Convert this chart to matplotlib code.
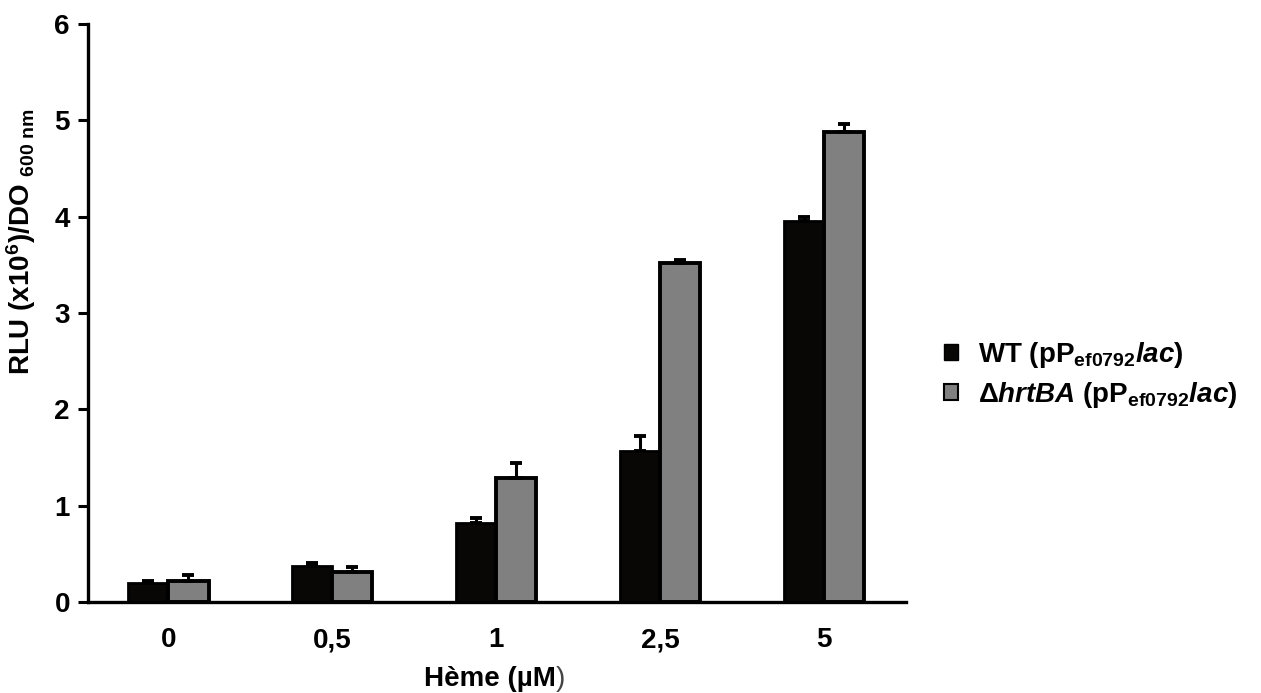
import numpy as np
import matplotlib
matplotlib.use("Agg")
import matplotlib.pyplot as plt
from matplotlib.patches import Patch

# Data
doses = ["0", "0,5", "1", "2,5", "5"]
wt_mean = [0.20, 0.37, 0.82, 1.57, 3.95]
wt_err = [0.02, 0.03, 0.05, 0.15, 0.05]
hrt_mean = [0.22, 0.31, 1.29, 3.52, 4.88]
hrt_err = [0.06, 0.05, 0.15, 0.03, 0.08]

plt.rcParams["font.family"] = ["Liberation Sans", "DejaVu Sans"]
plt.rcParams["font.weight"] = "bold"
plt.rcParams["mathtext.fontset"] = "custom"
plt.rcParams["mathtext.rm"] = "Liberation Sans:bold"
plt.rcParams["mathtext.bf"] = "Liberation Sans:bold"
plt.rcParams["mathtext.it"] = "Liberation Sans:bold:italic"

FS = 20

fig = plt.figure(figsize=(12.61, 6.93), dpi=100)
ax = fig.add_axes([0.0698, 0.1313, 0.6487, 0.8341])

x = np.arange(len(doses))
w = 0.245
ax.bar(x - w / 2, wt_mean, w, color="#080706", edgecolor="#000000", linewidth=2.0,
       yerr=[np.zeros(len(wt_err)), wt_err], capsize=4.5,
       error_kw=dict(elinewidth=2.2, capthick=2.8, ecolor="black"), zorder=2)
ax.bar(x + w / 2, hrt_mean, w, color="#808080", edgecolor="#000000", linewidth=2.8,
       yerr=[np.zeros(len(hrt_err)), hrt_err], capsize=4.5,
       error_kw=dict(elinewidth=2.2, capthick=2.8, ecolor="black"), zorder=2)

ax.set_xlim(-0.49, 4.5)
ax.set_ylim(0, 6)
ax.set_xticks(x)
ax.set_xticklabels(doses)
ax.set_yticks(range(7))
ax.tick_params(axis="x", length=0, pad=18, labelsize=FS)
ax.tick_params(axis="y", length=7, width=2.2, pad=6, labelsize=FS)
for s in ["top", "right"]:
    ax.spines[s].set_visible(False)
for s in ["left", "bottom"]:
    ax.spines[s].set_linewidth(2.4)
for lab in ax.get_xticklabels() + ax.get_yticklabels():
    lab.set_fontweight("bold")

# x label with a plain closing bracket
xl = fig.text(0.336, 0.010, "Hème (µM", fontsize=FS, fontweight="bold", ha="left", va="baseline")
ax.annotate(")", xy=(1, 0), xycoords=xl, fontsize=FS, fontweight="normal",
            color="#444444", ha="left", va="bottom")

fig.text(0.017, 0.652, r"RLU (x10$^{6}$)/DO $_{\mathrm{600\ nm}}$", rotation=90, fontsize=FS,
         fontweight="bold", ha="center", va="center")

handles = [Patch(facecolor="#080706", edgecolor="black", linewidth=1.0),
           Patch(facecolor="#808080", edgecolor="black", linewidth=1.5)]
labels = [r"WT (pP$_{\mathrm{ef0792}}\mathit{lac)}$",
          r"$\Delta\mathit{hrtBA}$ (pP$_{\mathrm{ef0792}}\mathit{lac)}$"]
fig.legend(handles, labels, loc="center left", bbox_to_anchor=(0.729, 0.459),
           frameon=False, fontsize=FS, handlelength=0.5, handleheight=0.5,
           handletextpad=0.7, labelspacing=0.35)

fig.savefig("out.png", dpi=100)
